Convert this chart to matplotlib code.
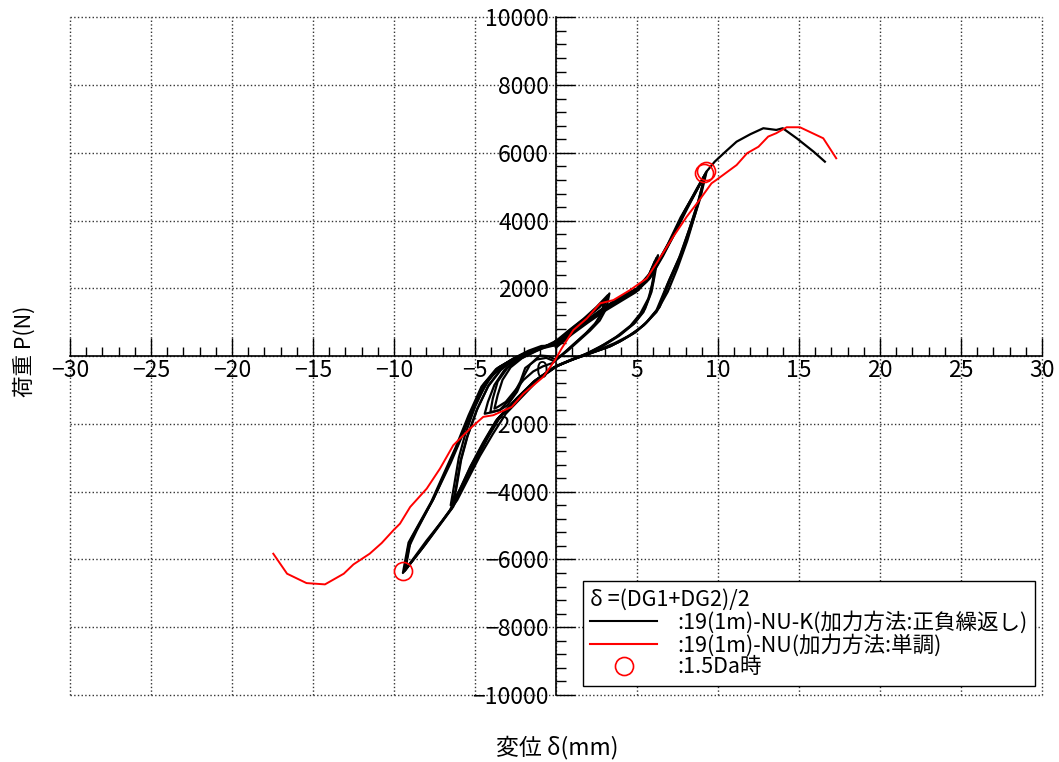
import numpy as np
import matplotlib
matplotlib.use("Agg")
import matplotlib.pyplot as plt
from matplotlib.lines import Line2D
from matplotlib.ticker import MultipleLocator

plt.rcParams['font.family'] = ['Noto Sans CJK JP', 'DejaVu Sans']

# black: cyclic loading 19(1m)-NU-K, small / medium / large cycles
small1_x = [0.0, 0.8, 1.6, 2.4, 2.9, 3.3, 3.1, 2.7, 2.1, 1.4, 0.7, 0.0, -0.5, -1.0, -1.6, -2.0, -2.4, -3.0, -3.5, -4.05,
            -3.9, -3.6, -3.0, -2.3, -1.5, -0.7, 0.0]
small1_y = [400, 750, 1050, 1350, 1550, 1850, 1400, 1050, 750, 450, 150, -100, 0, 20, -250, -600, -1050, -1450, -1600, -1650,
            -1250, -750, -350, -100, 100, 280, 420]
small2_x = [0.0, 0.9, 1.7, 2.5, 2.8, 3.2, 2.9, 2.5, 1.9, 1.2, 0.5, -0.1, -0.6, -1.2, -1.9, -2.2, -2.7, -3.45, -3.9, -4.4,
            -4.2, -3.8, -3.2, -2.5, -1.7, -0.8, 0.0]
small2_y = [450, 800, 1100, 1450, 1600, 1800, 1350, 1000, 700, 400, 100, -150, -50, -100, -350, -750, -1200, -1580, -1650, -1700,
            -1350, -850, -420, -150, 60, 260, 450]
small3_x = [0.0, 0.7, 1.5, 2.2, 2.7, 3.0, 2.8, 2.4, 1.8, 1.1, 0.4, -0.2, -0.8, -1.4, -2.0, -2.5, -3.1, -3.6, -3.8,
            -3.6, -3.3, -2.8, -2.1, -1.3, -0.5, 0.0]
small3_y = [350, 680, 980, 1250, 1450, 1650, 1250, 950, 650, 350, 50, -200, -300, -450, -700, -1000, -1350, -1500, -1550,
            -1150, -700, -330, -60, 130, 300, 380]
mid1_x = [0.0, 1.0, 2.0, 3.0, 4.0, 5.0, 5.8, 6.3, 6.1, 5.9, 5.5, 4.9, 4.0, 3.0, 2.0, 1.0, 0.0,
          -1.2, -2.3, -3.5, -4.3, -5.1, -5.8, -6.45, -6.2, -5.9, -5.5, -4.9, -4.2, -3.4, -2.5, -1.6, -0.8, 0.0]
mid1_y = [400, 750, 1100, 1450, 1750, 2000, 2450, 2980, 2400, 1900, 1400, 1000, 650, 350, 100, -100, -300,
          -700, -1200, -1800, -2450, -3170, -3850, -4500, -3950, -3100, -2400, -1600, -900, -400, -100, 120, 270, 400]
mid2_x = [0.0, 1.1, 2.1, 3.1, 4.1, 5.1, 5.7, 6.2, 6.0, 5.8, 5.4, 4.8, 3.9, 2.9, 1.9, 0.9, -0.1,
          -1.3, -2.4, -3.6, -4.4, -5.2, -5.85, -6.4, -6.15, -5.85, -5.45, -4.85, -4.15, -3.35, -2.45, -1.55, -0.75, 0.0]
mid2_y = [350, 720, 1060, 1400, 1700, 1950, 2350, 2900, 2300, 1800, 1300, 950, 600, 300, 60, -130, -320,
          -730, -1250, -1850, -2500, -3220, -3900, -4450, -3900, -3050, -2350, -1550, -850, -370, -80, 140, 290, 350]
mid3_x = [0.0, 0.9, 1.9, 2.9, 3.9, 4.9, 5.6, 6.1, 6.0, 5.7, 5.2, 4.6, 3.7, 2.7, 1.7, 0.7, -0.2,
          -1.4, -2.5, -3.7, -4.5, -5.3, -5.95, -6.5, -6.3, -6.0, -5.6, -5.0, -4.3, -3.5, -2.6, -1.7, -0.9, 0.0]
mid3_y = [320, 690, 1030, 1380, 1680, 1920, 2250, 2800, 2200, 1700, 1250, 900, 560, 270, 30, -160, -350,
          -760, -1300, -1900, -2550, -3270, -3950, -4400, -3850, -3000, -2300, -1500, -800, -340, -60, 160, 300, 320]
large1_x = [0.0, 1.0, 2.0, 3.0, 4.0, 5.0, 5.8, 6.5, 7.2, 8.0, 8.7, 9.25, 8.8, 8.3, 7.7, 7.0, 6.3, 5.6, 4.9, 4.0, 3.3, 2.1, 1.0, 0.0,
            -1.2, -2.3, -3.5, -4.3, -5.1, -5.8, -6.45, -7.3, -8.2, -9.35,
            -9.0, -8.3, -7.6, -6.9, -6.1, -5.3, -4.5, -3.6, -2.7, -1.8, -0.9, 0.0]
large1_y = [300, 700, 1050, 1400, 1700, 1950, 2300, 2900, 3500, 4300, 4900, 5400, 4600, 3850, 3000, 2250, 1400, 1000, 700, 450, 280, 80, -100, -300,
            -700, -1200, -1800, -2450, -3170, -3850, -4500, -5050, -5630, -6350,
            -5450, -4850, -4250, -3500, -2650, -1700, -850, -350, -100, 100, 250, 380]
large2_x = [0.0, 1.1, 2.1, 3.1, 4.1, 5.1, 5.9, 6.6, 7.3, 8.1, 8.75, 9.2, 8.75, 8.2, 7.6, 6.9, 6.2, 5.5, 4.7, 3.9, 3.1, 2.0, 0.9, -0.1,
            -1.3, -2.4, -3.6, -4.4, -5.2, -5.9, -6.55, -7.4, -8.3, -9.45,
            -9.1, -8.4, -7.7, -7.0, -6.2, -5.4, -4.6, -3.7, -2.8, -1.9, -1.0, 0.0]
large2_y = [350, 720, 1080, 1420, 1720, 2000, 2380, 2950, 3600, 4350, 4950, 5350, 4500, 3700, 2900, 2150, 1350, 950, 650, 420, 250, 60, -120, -330,
            -720, -1230, -1850, -2500, -3200, -3900, -4550, -5100, -5700, -6400,
            -5500, -4900, -4300, -3550, -2700, -1750, -900, -380, -120, 80, 230, 360]
large3_x = [0.0, 0.9, 1.9, 2.9, 3.9, 4.9, 5.7, 6.4, 7.1, 7.9, 8.65, 9.3, 8.9, 8.4, 7.8, 7.1, 6.4, 5.7, 5.0, 4.1, 3.4, 2.2, 1.1, 0.1,
            -1.1, -2.2, -3.4, -4.2, -5.0, -5.7, -6.35, -7.2, -8.1, -9.3,
            -8.95, -8.25, -7.55, -6.85, -6.05, -5.25, -4.4, -3.5, -2.6, -1.7, -0.8, 0.0]
large3_y = [280, 680, 1020, 1380, 1680, 1930, 2250, 2850, 3450, 4250, 4880, 5450, 4650, 3900, 3050, 2300, 1450, 1050, 750, 480, 300, 100, -80, -280,
            -680, -1180, -1760, -2400, -3130, -3800, -4450, -5000, -5580, -6300,
            -5400, -4800, -4200, -3450, -2600, -1650, -800, -320, -80, 120, 270, 400]
large4_x = [0.0, 1.0, 2.0, 3.0, 4.0, 4.9, 5.6, 6.2, 6.9, 7.7, 8.5, 9.2, 8.95, 8.6, 8.1, 7.5, 6.9, 6.2, 5.4, 4.5, 3.6, 2.5, 1.3, 0.2,
            -1.0, -2.0, -3.1, -3.9, -4.7, -5.4, -6.1, -7.0, -8.0, -9.3,
            -9.15, -8.6, -8.0, -7.3, -6.5, -5.7, -4.9, -4.0, -3.1, -2.1, -1.1, 0.0]
large4_y = [250, 650, 1000, 1330, 1620, 1880, 2200, 2700, 3300, 4100, 4750, 5350, 4800, 4200, 3400, 2600, 1900, 1300, 900, 600, 380, 160, -30, -250,
            -650, -1150, -1700, -2300, -2950, -3600, -4250, -4850, -5450, -6300,
            -5700, -5150, -4600, -3950, -3150, -2250, -1300, -600, -220, 50, 200, 330]
final_x = [0.0, 1.0, 2.0, 3.0, 4.0, 5.0, 5.8, 6.5, 7.2, 8.0, 8.7, 9.3, 9.8, 10.5, 11.15, 12.0, 12.8, 13.6, 14.0, 14.86, 15.9, 16.6]
final_y = [350, 720, 1080, 1420, 1720, 1980, 2330, 2930, 3550, 4330, 4950, 5450, 5740, 6050, 6330, 6550, 6726, 6676, 6726, 6430, 6036, 5740]

# red: monotonic loading 19(1m)-NU
mono_x = [-17.45, -16.6, -15.4, -14.26, -13.1, -12.5, -11.5, -10.76, -10.04, -9.63, -9.0, -7.98, -7.16, -6.34, -5.3,
          -4.49, -3.87, -2.73, -2.0, -0.78, -0.37, -0.06, 0.35, 1.07, 1.9, 2.72, 3.54, 4.57, 5.6, 6.2, 7.24, 8.07,
          8.78, 9.6, 9.9, 11.15, 11.8, 12.5, 13.1, 13.6, 14.24, 15.06, 16.5, 17.3]
mono_y = [-5830, -6420, -6697, -6735, -6420, -6145, -5830, -5515, -5140, -4943, -4450, -3910, -3318, -2630, -2136,
          -1792, -1743, -1497, -1103, -611, -330, -118, 227, 768, 1112, 1557, 1654, 1950, 2295, 2738, 3524, 4115,
          4558, 5100, 5200, 5640, 5990, 6180, 6480, 6580, 6755, 6755, 6430, 5840]

# 1.5Da points
da_x = [9.24, 9.15, -9.47]
da_y = [5465, 5397, -6342]

cycles = [(small1_x, small1_y), (small2_x, small2_y), (small3_x, small3_y),
          (mid1_x, mid1_y), (mid2_x, mid2_y), (mid3_x, mid3_y),
          (large1_x, large1_y), (large2_x, large2_y), (large3_x, large3_y), (large4_x, large4_y),
          (final_x, final_y)]

x_ticks = [-30, -25, -20, -15, -10, -5, 0, 5, 10, 15, 20, 25, 30]
y_ticks = [-10000, -8000, -6000, -4000, -2000, 0, 2000, 4000, 6000, 8000, 10000]

fig = plt.figure(figsize=(10.59, 7.62), dpi=100)
ax = fig.add_axes([0.0661, 0.0879, 0.9178, 0.8894])

for cx, cy in cycles:
    ax.plot(cx, cy, color="black", lw=1.6, zorder=3)
ax.plot(mono_x, mono_y, color="red", lw=1.4, zorder=4)
ax.plot(da_x, da_y, "o", mfc="none", mec="red", ms=13, mew=1.2, zorder=5)

ax.set_xlim(-30, 30)
ax.set_ylim(-10000, 10000)
for s in ["top", "right"]:
    ax.spines[s].set_visible(False)
ax.spines["left"].set_position("zero")
ax.spines["bottom"].set_position("zero")
ax.spines["left"].set_linewidth(1.2)
ax.spines["bottom"].set_linewidth(1.2)

ax.set_xticks(x_ticks)
ax.set_xticklabels(["\u2212%d" % -v if v < 0 else ("" if v == 0 else str(v)) for v in x_ticks])
ax.set_yticks(y_ticks)
ax.set_yticklabels(["\u2212%d" % -v if v < 0 else ("" if v == 0 else str(v)) for v in y_ticks])
ax.xaxis.set_minor_locator(MultipleLocator(1))
ax.yaxis.set_minor_locator(MultipleLocator(400))
ax.tick_params(axis="x", which="major", direction="in", length=13, width=1, pad=2, labelsize=16.5)
ax.tick_params(axis="x", which="minor", direction="in", length=6.5, width=1)
ax.tick_params(axis="y", which="major", direction="in", length=14, width=1, pad=5, labelsize=16.5)
ax.tick_params(axis="y", which="minor", direction="in", length=7, width=1)
ax.annotate("0", xy=(0, 0), xytext=(-5, -3), textcoords="offset points", ha="right", va="top", fontsize=16.5)
ax.set_axisbelow(True)
ax.grid(True, which="major", linestyle=":", color="#333333", linewidth=1)
for gl in ax.get_xgridlines() + ax.get_ygridlines():
    gl.set_clip_on(False)

ax.set_xlabel("変位 δ(mm)", fontsize=16.5, va="center")
ax.xaxis.set_label_coords(0.501, -0.0767)
ax.set_ylabel("荷重 P(N)", fontsize=15.5, va="center")
ax.yaxis.set_label_coords(-0.0463, 0.5076)

handles = [Line2D([], [], color="black", lw=1.5),
           Line2D([], [], color="red", lw=1.5),
           Line2D([], [], ls="none", marker="o", mfc="none", mec="red", ms=13, mew=1.2)]
labels = [":19(1m)-NU-K(加力方法:正負繰返し)", ":19(1m)-NU(加力方法:単調)", ":1.5Da時"]
leg = ax.legend(handles, labels, title="δ =(DG1+DG2)/2", loc="lower right", bbox_to_anchor=(0.9928, 0.0133),
                borderaxespad=0, fancybox=False, edgecolor="black", framealpha=1, fontsize=15.5, title_fontsize=15.5,
                alignment="left", handlelength=3.1, handletextpad=0.93, labelspacing=0.0, borderpad=0.35)
leg.get_frame().set_linewidth(1.0)

fig.savefig("out.png", dpi=100)
